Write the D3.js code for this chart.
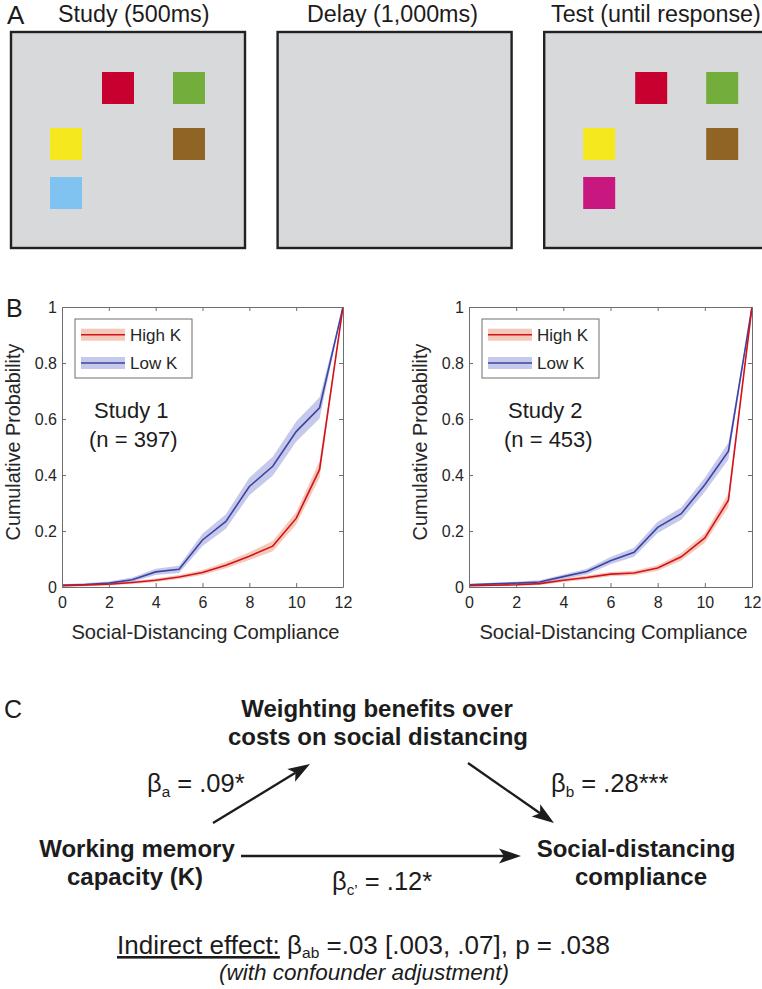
<!DOCTYPE html>
<html><head><meta charset="utf-8">
<script src="https://cdn.jsdelivr.net/npm/d3@7"></script>
<style>
html,body{margin:0;padding:0;background:#fff;}
svg{display:block;font-family:"Liberation Sans",Arial,Helvetica,sans-serif;}
</style></head><body>
<svg id="fig" width="762" height="989"></svg>
<script>
// ---------------- Data ----------------
const panelATitles = ["Study (500ms)", "Delay (1,000ms)", "Test (until response)"];
const studyColors = ["#c8002f", "#73ad3c", "#f5e81f", "#8f6424", "#80c3f1"];
const testColors  = ["#c8002f", "#73ad3c", "#f5e81f", "#8f6424", "#c8177e"];

const compliance = [0, 1, 2, 3, 4, 5, 6, 7, 8, 9, 10, 11, 12];
const xTickValues = [0, 2, 4, 6, 8, 10, 12];
const yTickValues = [0, 0.2, 0.4, 0.6, 0.8, 1];
const yTickLabels = ["0", "0.2", "0.4", "0.6", "0.8", "1"];
const seriesNames = ["High K", "Low K"];

const study1High   = [0.005, 0.007, 0.010, 0.016, 0.024, 0.036, 0.052, 0.078, 0.110, 0.146, 0.245, 0.420, 1.0];
const study1HighSE = [0.004, 0.004, 0.004, 0.005, 0.006, 0.007, 0.009, 0.011, 0.014, 0.018, 0.022, 0.030, 0.0];
const study1Low    = [0.006, 0.009, 0.014, 0.026, 0.054, 0.063, 0.168, 0.234, 0.359, 0.431, 0.555, 0.640, 1.0];
const study1LowSE  = [0.004, 0.005, 0.006, 0.008, 0.011, 0.013, 0.022, 0.026, 0.031, 0.034, 0.036, 0.038, 0.0];

const study2High   = [0.005, 0.006, 0.008, 0.012, 0.024, 0.034, 0.046, 0.050, 0.068, 0.108, 0.175, 0.310, 1.0];
const study2HighSE = [0.003, 0.003, 0.004, 0.005, 0.006, 0.007, 0.008, 0.008, 0.010, 0.013, 0.017, 0.024, 0.0];
const study2Low    = [0.008, 0.011, 0.014, 0.018, 0.037, 0.055, 0.094, 0.124, 0.213, 0.262, 0.365, 0.485, 1.0];
const study2LowSE  = [0.004, 0.004, 0.005, 0.006, 0.008, 0.010, 0.013, 0.016, 0.020, 0.022, 0.025, 0.030, 0.0];

const studyLabels = ["Study 1", "Study 2"];
const sampleLabels = ["(n = 397)", "(n = 453)"];

// ---------------- Layout ----------------
const svg = d3.select("#fig");
svg.append("rect").attr("width", 762).attr("height", 989).attr("fill", "#fff");
const FONT = "'Liberation Sans', Arial, Helvetica, sans-serif";
const DARK = "#1c1c1c";

// ---------- Panel A ----------
svg.append("text").attr("x", 7).attr("y", 24).attr("font-size", 26).attr("fill", DARK).text("A");
const boxX = d3.scaleBand().domain(panelATitles).range([11, 786]).paddingInner(24 / 258).paddingOuter(0);
const slots = [[91, 40], [162, 40], [39, 96], [162, 96], [39, 145]];
const titleStarts = [58, 307, 551];
panelATitles.forEach((t, i) => {
  const bx = boxX(t), bw = 234;
  svg.append("text").attr("x", titleStarts[i]).attr("y", 22).attr("font-size", 23.3)
    .attr("fill", DARK).text(t);
  svg.append("rect").attr("x", bx).attr("y", 32).attr("width", bw).attr("height", 216)
    .attr("fill", "#d8d9da").attr("stroke", "#222").attr("stroke-width", 2.4);
  const cols = i === 0 ? studyColors : (i === 2 ? testColors : []);
  cols.forEach((c, j) => {
    svg.append("rect").attr("x", bx + slots[j][0]).attr("y", 32 + slots[j][1])
      .attr("width", 32).attr("height", 32).attr("fill", c);
  });
});

// ---------- Panel B ----------
svg.append("text").attr("x", 6).attr("y", 317).attr("font-size", 25).attr("fill", DARK).text("B");

const charts = [
  { x0: 62, x1: 343, high: study1High, highSE: study1HighSE, low: study1Low, lowSE: study1LowSE,
    sx: 94, nx: 89, label: studyLabels[0], n: sampleLabels[0] },
  { x0: 469, x1: 752, high: study2High, highSE: study2HighSE, low: study2Low, lowSE: study2LowSE,
    sx: 508, nx: 504, label: studyLabels[1], n: sampleLabels[1] }
];
const styles = {
  "High K": { line: "#d3121b", band: "#eea58a", op: 0.6 },
  "Low K":  { line: "#3b43a3", band: "#8f94d8", op: 0.5 }
};
const Y0 = 587, Y1 = 307;

charts.forEach((c, ci) => {
  const x = d3.scaleLinear().domain([0, 12]).range([c.x0, c.x1]);
  const y = d3.scaleLinear().domain([0, 1]).range([Y0, Y1]);
  const g = svg.append("g");
  const clipId = "clip" + ci;
  svg.append("clipPath").attr("id", clipId).append("rect")
    .attr("x", c.x0).attr("y", Y1).attr("width", c.x1 - c.x0).attr("height", Y0 - Y1);

  const series = [
    { name: seriesNames[0], mean: c.high, se: c.highSE },
    { name: seriesNames[1], mean: c.low, se: c.lowSE }
  ];
  const area = d3.area()
    .x((d, i) => x(compliance[i]))
    .y0(d => y(d[0] - d[1]))
    .y1(d => y(d[0] + d[1]));
  const line = d3.line().x((d, i) => x(compliance[i])).y(d => y(d));
  const plot = g.append("g").attr("clip-path", `url(#${clipId})`);
  series.forEach(s => {
    plot.append("path").datum(s.mean.map((m, i) => [m, s.se[i]]))
      .attr("d", area).attr("fill", styles[s.name].band).attr("fill-opacity", styles[s.name].op);
  });
  [series[1], series[0]].forEach(s => {
    plot.append("path").datum(s.mean).attr("d", line).attr("fill", "none")
      .attr("stroke", styles[s.name].line).attr("stroke-width", 1.6);
  });

  const styleAxis = a => {
    a.attr("font-size", 16).attr("font-family", FONT);
    a.selectAll(".domain").attr("stroke", "#6e6e6e").attr("stroke-width", 1);
    a.selectAll(".tick line").attr("stroke", "#6e6e6e");
    a.selectAll("text").attr("fill", "#262626");
  };
  g.append("g").attr("transform", `translate(0,${Y0})`)
    .call(d3.axisBottom(x).tickValues(xTickValues).tickFormat(d3.format("d"))
      .tickSizeInner(-4).tickSizeOuter(0).tickPadding(9.5)).call(styleAxis);
  g.append("g").attr("transform", `translate(0,${Y1})`)
    .call(d3.axisTop(x).tickValues(xTickValues).tickFormat("")
      .tickSizeInner(-4).tickSizeOuter(0)).call(styleAxis);
  g.append("g").attr("transform", `translate(${c.x0},0)`)
    .call(d3.axisLeft(y).tickValues(yTickValues).tickFormat(d => yTickLabels[yTickValues.indexOf(d)])
      .tickSizeInner(-4).tickSizeOuter(0).tickPadding(5)).call(styleAxis);
  g.append("g").attr("transform", `translate(${c.x1},0)`)
    .call(d3.axisRight(y).tickValues(yTickValues).tickFormat("")
      .tickSizeInner(-4).tickSizeOuter(0)).call(styleAxis);

  g.append("text").attr("x", (c.x0 + c.x1) / 2 + 3).attr("y", 639).attr("text-anchor", "middle")
    .attr("font-size", 20.2).attr("fill", "#262626").text("Social-Distancing Compliance");
  g.append("text").attr("transform", `translate(${c.x0 - 42},${(Y0 + Y1) / 2 - 5}) rotate(-90)`)
    .attr("text-anchor", "middle").attr("font-size", 19.8).attr("fill", "#262626")
    .text("Cumulative Probability");

  const lx = c.x0 + 13, ly = 319;
  g.append("rect").attr("x", lx).attr("y", ly).attr("width", 117).attr("height", 59)
    .attr("fill", "#fff").attr("stroke", "#6e6e6e").attr("stroke-width", 1);
  series.forEach((s, i) => {
    const ry = 334.7 + i * 28.3;
    g.append("rect").attr("x", lx + 6).attr("y", ry - 6).attr("width", 44).attr("height", 12)
      .attr("fill", styles[s.name].band).attr("fill-opacity", styles[s.name].op);
    g.append("line").attr("x1", lx + 6).attr("x2", lx + 50).attr("y1", ry).attr("y2", ry)
      .attr("stroke", styles[s.name].line).attr("stroke-width", 1.6);
    g.append("text").attr("x", lx + 55).attr("y", ry + 6).attr("font-size", 17)
      .attr("fill", "#262626").text(s.name);
  });

  g.append("text").attr("x", c.sx).attr("y", 418).attr("font-size", 22).attr("fill", DARK).text(c.label);
  g.append("text").attr("x", c.nx).attr("y", 447).attr("font-size", 22).attr("fill", DARK).text(c.n);
});

// ---------- Panel C ----------
svg.append("text").attr("x", 4).attr("y", 718).attr("font-size", 25).attr("fill", DARK).text("C");

const bold = (t, x, yy) => svg.append("text").attr("x", x).attr("y", yy).attr("text-anchor", "middle")
  .attr("font-size", 24).attr("font-weight", "bold").attr("fill", DARK).text(t);
bold("Weighting benefits over", 377, 717);
bold("costs on social distancing", 378, 745);
bold("Working memory", 137, 857);
bold("capacity (K)", 135, 885);
bold("Social-distancing", 636, 857);
bold("compliance", 641, 885);

function arrow(p0, p1) {
  const dx = p1[0] - p0[0], dy = p1[1] - p0[1];
  const L = Math.hypot(dx, dy), ux = dx / L, uy = dy / L, nx = -uy, ny = ux;
  const hl = 22, hw = 7.5, notch = 17;
  svg.append("line").attr("x1", p0[0]).attr("y1", p0[1])
    .attr("x2", p1[0] - ux * notch).attr("y2", p1[1] - uy * notch)
    .attr("stroke", DARK).attr("stroke-width", 2.3);
  const pts = [
    [p1[0], p1[1]],
    [p1[0] - ux * hl + nx * hw, p1[1] - uy * hl + ny * hw],
    [p1[0] - ux * notch, p1[1] - uy * notch],
    [p1[0] - ux * hl - nx * hw, p1[1] - uy * hl - ny * hw]
  ];
  svg.append("path").attr("d", d3.line()(pts) + "Z").attr("fill", DARK);
}
arrow([213, 823], [310, 764]);
arrow([468, 763], [554, 823]);
arrow([241, 856], [521, 856]);

function beta(x, yy, sub, rest, size) {
  const t = svg.append("text").attr("x", x).attr("y", yy).attr("font-size", size).attr("fill", DARK);
  t.append("tspan").text("β");
  t.append("tspan").attr("font-size", size * 0.6).attr("dy", 5).text(sub);
  t.append("tspan").attr("dy", -5).text(rest);
  return t;
}
beta(147, 792, "a", " = .09*", 25.5);
beta(551, 792, "b", " = .28***", 25.5);
beta(332, 890, "c’", " = .12*", 25.5);

const ind = svg.append("text").attr("x", 117).attr("y", 954).attr("font-size", 26).attr("fill", DARK);
ind.append("tspan").attr("text-decoration", "underline").text("Indirect effect:");
ind.append("tspan").text(" β");
ind.append("tspan").attr("font-size", 15.5).attr("dy", 4).text("ab");
ind.append("tspan").attr("dy", -4).text(" =.03 [.003, .07], p = .038");

svg.append("text").attr("x", 364).attr("y", 980).attr("text-anchor", "middle").attr("font-size", 22.5)
  .attr("font-style", "italic").attr("fill", DARK).text("(with confounder adjustment)");
</script>
</body></html>
